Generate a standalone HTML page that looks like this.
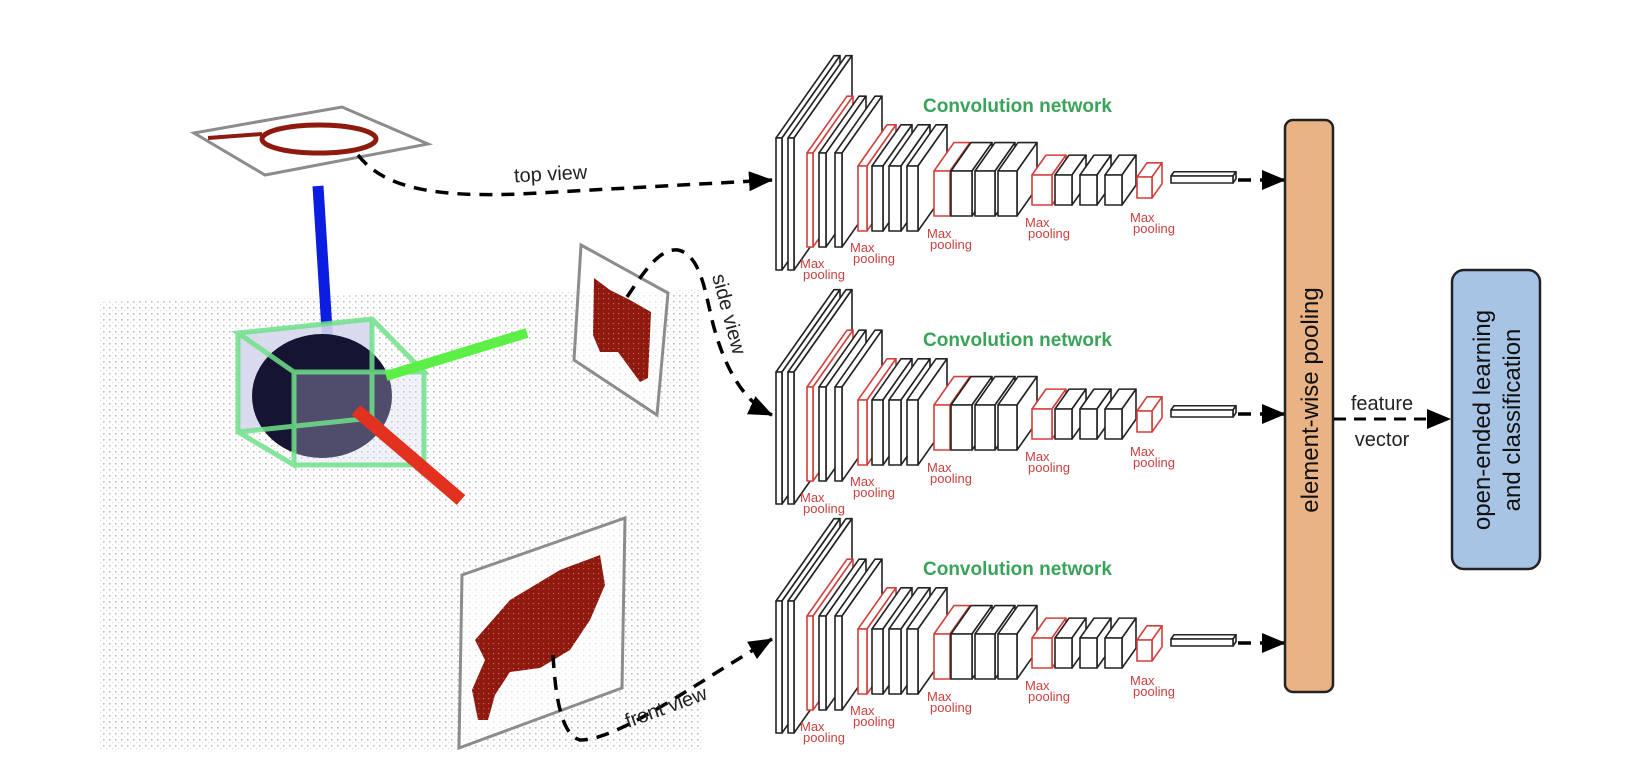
<!DOCTYPE html>
<html><head><meta charset="utf-8"><style>
html,body{margin:0;padding:0;background:#fff;}
svg{display:block;font-family:"Liberation Sans",sans-serif;}
</style></head><body>
<svg id="root" width="1644" height="784" viewBox="0 0 1644 784">
<defs>
<pattern id="dots" width="6" height="6" patternUnits="userSpaceOnUse">
<rect x="1" y="1" width="1.6" height="1.6" fill="#8a8a8a"/><rect x="4" y="4" width="1.1" height="1.1" fill="#bdbdbd"/>
</pattern>
<pattern id="reddots" width="5" height="5" patternUnits="userSpaceOnUse">
<rect width="5" height="5" fill="#8e1a0f"/><rect x="3" y="3" width="1.2" height="1.2" fill="#c9615a"/>
</pattern>
<marker id="arr" markerWidth="24" markerHeight="20" refX="23" refY="10" orient="auto" markerUnits="userSpaceOnUse"><path d="M0,0 L24,10 L0,20 z" fill="#000"/></marker>
</defs>

<g>
<polygon points="100,302 330,296 470,292 700,290 702,750 100,750" fill="url(#dots)" opacity="0.55"/>
<polygon points="194,133 342,107 428,144 265,175" fill="#fff" stroke="#8c8c8c" stroke-width="3"/>
<ellipse cx="319" cy="139" rx="57" ry="14" fill="none" stroke="#8e1a0f" stroke-width="5"/>
<path d="M208,138 L262,134" stroke="#8e1a0f" stroke-width="4" fill="none"/>
<line x1="318" y1="186" x2="330" y2="378" stroke="#0b1de0" stroke-width="11"/>
<g>
<polygon points="238,333 372,319 372,418 238,432" fill="#d7d7ee" opacity="0.9"/>
<ellipse cx="322" cy="396" rx="70" ry="62" fill="#161433"/>
<rect x="294" y="372" width="130" height="93" fill="#d4d4f0" opacity="0.3"/>
<path d="M238,333 L372,319 L424,372 L294,372 Z M238,333 L238,432 L294,465 L294,372 M424,372 L424,465 L294,465 M372,319 L372,418 L424,465 M238,432 L372,418" fill="none" stroke="#6fe08a" stroke-width="5" opacity="0.85"/>
</g>
<line x1="386" y1="376" x2="527" y2="333" stroke="#5cf046" stroke-width="10"/>
<line x1="356" y1="410" x2="461" y2="500" stroke="#e3311f" stroke-width="13"/>
<polygon points="581,245 668,293 657,415 574,360" fill="#fff" fill-opacity="0.6" stroke="#8c8c8c" stroke-width="3"/>
<polygon points="594,278 610,290 630,300 651,312 648,378 640,382 618,352 600,352 593,335" fill="url(#reddots)"/>
<polygon points="462,575 625,518 622,688 459,748" fill="#fff" fill-opacity="0.6" stroke="#8c8c8c" stroke-width="3"/>
<polygon points="475,640 510,600 560,570 600,555 605,585 590,620 570,650 540,668 510,672 495,695 488,720 478,720 472,690 485,660" fill="url(#reddots)"/>
</g>

<g fill="none" stroke="#000" stroke-width="3.5" stroke-dasharray="13,9">
<path d="M358,155 C385,190 440,197 520,194 L772,180" marker-end="url(#arr)"/>
<path d="M627,297 C645,270 660,248 678,250 C700,255 705,290 712,320 C722,360 740,400 772,415" marker-end="url(#arr)"/>
<path d="M553,655 C555,690 560,735 580,740 C620,740 700,680 772,639" marker-end="url(#arr)"/>
</g>
<text x="514" y="180" font-size="20" fill="#222" transform="rotate(-3 560 175)">top view</text>
<text x="0" y="0" font-size="20" fill="#222" transform="translate(712,276) rotate(75)">side view</text>
<text x="0" y="0" font-size="20" fill="#222" transform="translate(628,728) rotate(-20)">front view</text>

<g id="nets"></g>

<rect x="1285" y="120" width="48" height="572" rx="8" fill="#e9b386" stroke="#222" stroke-width="2.5"/>
<text x="0" y="0" font-size="24" fill="#111" text-anchor="middle" transform="translate(1318,400) rotate(-90)">element-wise pooling</text>
<line x1="1334" y1="419" x2="1450" y2="419" stroke="#000" stroke-width="3" stroke-dasharray="12,8" marker-end="url(#arr)"/>
<text x="1382" y="410" font-size="20" fill="#222" text-anchor="middle">feature</text>
<text x="1382" y="446" font-size="20" fill="#222" text-anchor="middle">vector</text>
<rect x="1452" y="270" width="88" height="299" rx="12" fill="#a8c4e4" stroke="#222" stroke-width="2.5"/>
<text font-size="24" fill="#111" text-anchor="middle" transform="translate(1496,420) rotate(-90)"><tspan x="0" y="-6">open-ended learning</tspan><tspan x="0" y="24">and classification</tspan></text>
</svg>
<script>
const layerX = [776,788,807,819,835,858,872,889,907,934,951,975,998,1032,1055,1080,1105,1137,1171];
const layerY = [138,138,153,153,153,166,166,166,166,171,171,171,171,175,175,175,175,177,176];
const layerW = [6,6,6,7,7,9,11,12,11,16,21,20,19,20,17,17,17,15,62];
const layerH = [132,132,94,94,94,65,65,65,65,45,45,45,45,30,30,30,30,21,7];
const layerD = [58,58,40,40,40,29,29,29,29,20,20,20,20,14,14,14,14,10,3];
const layerRed = [0,0,1,0,0,1,0,0,0,1,0,0,0,1,0,0,0,1,0];
const netOffsets = [0,234,463];
const poolLabelX = [800,850,927,1025,1130];
const poolLabelY = [268,252,238,227,222];
const NS='http://www.w3.org/2000/svg';
const nets=document.getElementById('nets');
function mk(tag,attrs,parent){const e=document.createElementNS(NS,tag);for(const k in attrs)e.setAttribute(k,attrs[k]);parent.appendChild(e);return e;}
netOffsets.forEach((off,ni)=>{
  const g=mk('g',{transform:'translate(0,'+off+')'},nets);
  
  
  layerX.forEach((x,i)=>{
    const y=layerY[i],w=layerW[i],h=layerH[i],d=layerD[i],dy=-1.42*d;
    const col=layerRed[i]?'#d0403c':'#222';
    const lg=mk('g',{fill:'#fff',stroke:col,'stroke-width':'1.6','stroke-linejoin':'round'},g);
    
    
    mk('polygon',{points:`${x},${y} ${x+d},${y+dy} ${x+w+d},${y+dy} ${x+w},${y}`},lg);
    mk('polygon',{points:`${x+w},${y} ${x+w+d},${y+dy} ${x+w+d},${y+h+dy} ${x+w},${y+h}`},lg);
    mk('rect',{x:x,y:y,width:w,height:h},lg);
  });
  poolLabelX.forEach((x,i)=>{
    const t=mk('text',{x:x,y:poolLabelY[i],'font-size':'13',fill:'#c8413f'},g);
    
    
    const a=mk('tspan',{x:x,dy:'0'},t);a.textContent='Max';
    const b=mk('tspan',{x:x+3,dy:'11'},t);b.textContent='pooling';
  });
  const title=mk('text',{x:923,y:112,'font-size':'19','font-weight':'bold',fill:'#3aa35a'},g);
  
  
  title.textContent='Convolution network';
  const ar=mk('line',{x1:1238,y1:180,x2:1285,y2:180,stroke:'#000','stroke-width':'3.5','stroke-dasharray':'13,9','marker-end':'url(#arr)'},g);
  
  
});
</script>
</body></html>
